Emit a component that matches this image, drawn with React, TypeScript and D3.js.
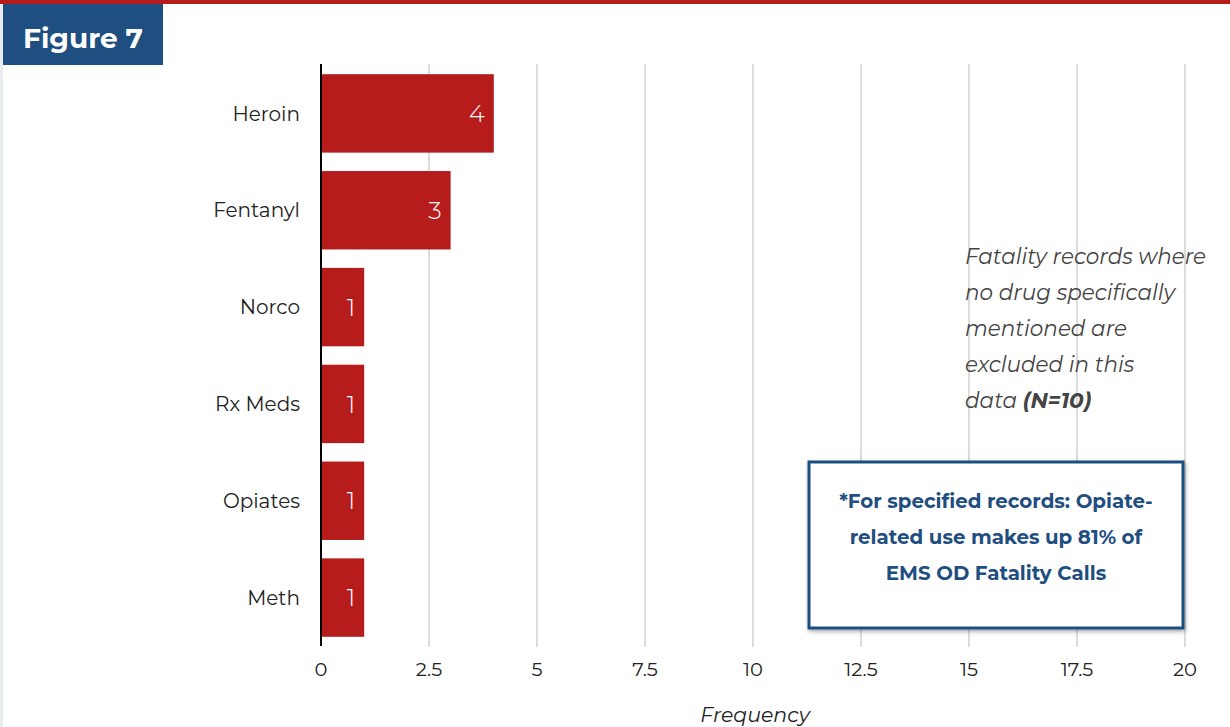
import React from "react";
import * as d3 from "d3";

const categories = ["Heroin", "Fentanyl", "Norco", "Rx Meds", "Opiates", "Meth"];
const values = [4, 3, 1, 1, 1, 1];
const xTicks = [0, 2.5, 5, 7.5, 10, 12.5, 15, 17.5, 20];
const noteLines = ["Fatality records where", "no drug specifically", "mentioned are", "excluded in this"];
const boxLines = ["*For specified records: Opiate-", "related use makes up 81% of", "EMS OD Fatality Calls"];

const W = 1230;
const H = 727;
const RED = "#b71c1c";
const BLUE = "#1f4e80";
const FONT = "Montserrat, 'Open Sans', Lato, sans-serif";

export default function App() {
  const x = d3.scaleLinear().domain([0, 20]).range([321, 1185]);
  const y = d3.scaleBand<string>().domain(categories).range([65, 646]).paddingInner(0.19).paddingOuter(0.095);

  return (
    <svg width={W} height={H} style={{ position: "absolute", left: 0, top: 0, display: "block" }} fontFamily={FONT}>
      <defs>
        <filter id="shadow" x="-10%" y="-10%" width="130%" height="130%">
          <feDropShadow dx="1" dy="2" stdDeviation="2" floodColor="#000" floodOpacity="0.35" />
        </filter>
      </defs>
      <rect x={0} y={0} width={W} height={H} fill="#fff" />
      <rect x={0} y={0} width={3} height={H} fill="#e9edf1" />
      <rect x={0} y={0} width={W} height={4} fill={RED} />
      <rect x={3} y={4} width={160} height={61} fill={BLUE} />
      <text x={83} y={48} textAnchor="middle" fill="#fff" fontSize={28} fontWeight={700}>Figure 7</text>

      {xTicks.map((t) => (
        t === 0 ? null : <line key={t} x1={x(t)} x2={x(t)} y1={64} y2={647} stroke="#dcdcdc" strokeWidth={2} />
      ))}

      {categories.map((c, i) => (
        <g key={c}>
          <rect x={x(0)} y={y(c)} width={x(values[i]) - x(0)} height={y.bandwidth()} fill={RED} />
          <text x={x(values[i]) - 9} y={y(c)! + y.bandwidth() / 2} dy="0.36em" textAnchor="end" fill="#fff" fontSize={24} fontWeight={300}>
            {values[i]}
          </text>
          <text x={300} y={y(c)! + y.bandwidth() / 2} dy="0.36em" textAnchor="end" fill="#222" fontSize={20}>
            {c}
          </text>
        </g>
      ))}

      <line x1={x(0)} x2={x(0)} y1={64} y2={646} stroke="#000" strokeWidth={2} />

      {xTicks.map((t) => (
        <text key={"l" + t} x={x(t)} y={676} textAnchor="middle" fill="#222" fontSize={19.5}>{t}</text>
      ))}
      <text x={755} y={722} textAnchor="middle" fill="#222" fontSize={20.5} fontStyle="italic">Frequency</text>

      {noteLines.map((l, i) => (
        <text key={l} x={965} y={264 + i * 36} fill="#444" fontSize={21.5} fontStyle="italic">{l}</text>
      ))}
      <text x={965} y={264 + 4 * 36} fill="#444" fontSize={21.5} fontStyle="italic">
        data <tspan fontWeight={700}>(N=10)</tspan>
      </text>

      <rect x={809} y={462} width={374} height={166} fill="#fff" stroke={BLUE} strokeWidth={3} filter="url(#shadow)" />
      {boxLines.map((l, i) => (
        <text key={l} x={996} y={508 + i * 36} textAnchor="middle" fill={BLUE} fontSize={19.8} fontWeight={700}>{l}</text>
      ))}
    </svg>
  );
}
